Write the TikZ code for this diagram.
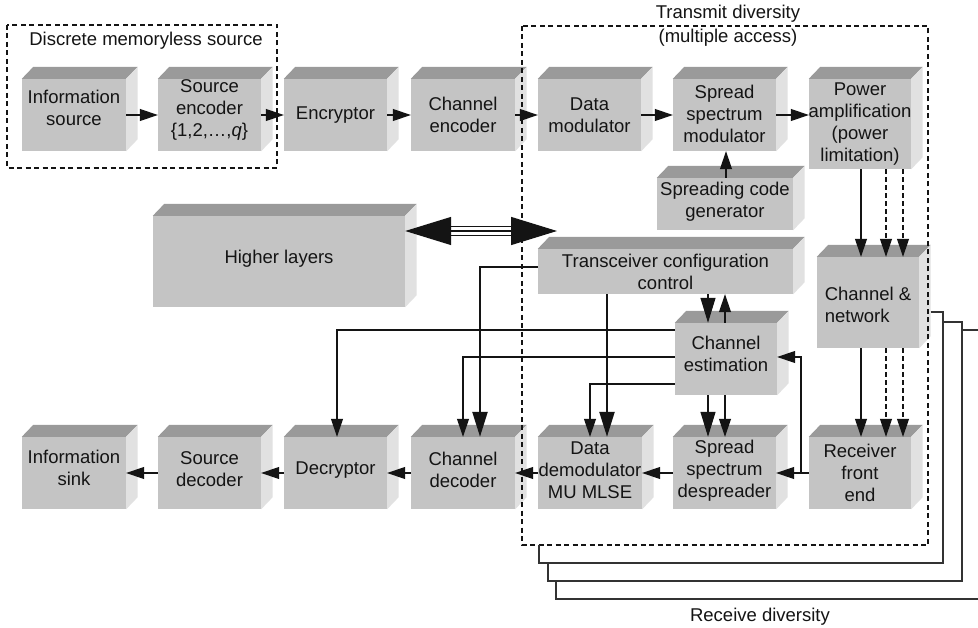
\documentclass[tikz,border=0pt]{standalone}
\usepackage{fontspec}
\setmainfont{Liberation Sans}
\usetikzlibrary{arrows.meta,calc}

\definecolor{facefront}{HTML}{C4C4C4}
\definecolor{facetop}{HTML}{9A9A9A}
\definecolor{faceside}{HTML}{E1E1E1}
\definecolor{ink}{HTML}{141414}
\definecolor{wire}{HTML}{333333}

% 3-D block: name, centre x, centre y, width, height, text, text lift
\newcommand{\blockcube}[7]{%
  \node[cubefront, minimum width=#4pt, minimum height=#5pt] (#1) at (#2,#3) {};
  \fill[facetop] (#1.north west) -- ++(11.5,-12) -- ($(#1.north east)+(11.5,-12)$) -- (#1.north east) -- cycle;
  \fill[faceside] (#1.north east) -- ++(11.5,-12) -- ($(#1.south east)+(11.5,-12)$) -- (#1.south east) -- cycle;
  \node[cubetext] (#1-text) at ([yshift=#7pt]#1.center) {#6};
}

\tikzset{
  cubefront/.style={fill=facefront, inner sep=0pt},
  cubetext/.style={inner sep=0pt, align=center, text=ink},
  arr/.style={line width=1.1pt, draw=ink, -{Triangle[length=18pt,width=12pt]}},
  bigarr/.style={line width=1.1pt, draw=ink, -{Triangle[length=25pt,width=15pt]}},
  thickarr/.style={line width=2.3pt, draw=ink, -{Triangle[length=25pt,width=15pt]}},
  dasharr/.style={arr, dash pattern=on 5pt off 3pt},
  hugearr/.style={line width=1.3pt, draw=ink, {Triangle[length=46pt,width=28pt]}-{Triangle[length=46pt,width=28pt]}},
  hugerail/.style={line width=1.3pt, draw=ink},
  groupbox/.style={line width=1.4pt, draw=ink, dash pattern=on 5pt off 3.5pt},
  divline/.style={line width=1.1pt, draw=wire},
  label/.style={text=ink, inner sep=0pt}
}

\begin{document}
\begin{tikzpicture}[x=1pt, y=-1pt,
  every node/.append style={font=\fontsize{18.5pt}{22pt}\selectfont}]
\useasboundingbox (0,0) rectangle (978,628);
\clip (0,0) rectangle (978,628);
\fill[white] (0,0) rectangle (978,628);

% transmit chain
\blockcube{isrc}{74}{115}{104}{72}{Information\\source}{7}
\blockcube{senc}{209.5}{115}{103}{72}{Source\\encoder\\\{1,2,…,\textit{q}\}}{5}
\blockcube{encr}{335.5}{115}{103}{72}{Encryptor}{0}
\blockcube{cenc}{463}{115}{104}{72}{Channel\\encoder}{0}
\blockcube{dmod}{589.5}{115}{103}{72}{Data\\modulator}{0}
\blockcube{ssmod}{724.5}{115}{103}{72}{Spread\\spectrum\\modulator}{1}
\blockcube{pamp}{860}{124}{102}{90}{Power\\amplification\\(power\\limitation)}{0}
\blockcube{scg}{725}{204}{136}{52}{Spreading code\\generator}{2}

% control and channel
\blockcube{hl}{279}{261.5}{252}{91}{Higher layers}{3}
\blockcube{tcc}{665.5}{271.5}{255}{45}{Transceiver configuration\\control}{0}
\blockcube{cnet}{868}{302.5}{102}{91}{}{0}
\node[cubetext, align=left] (cnet-label) at ([yshift=-2pt]cnet.center) {Channel \&\\network};
\blockcube{cest}{726}{359}{102}{72}{Channel\\estimation}{5}

% receive chain
\blockcube{isink}{74}{473}{104}{72}{Information\\sink}{5}
\blockcube{sdec}{209.5}{473}{103}{72}{Source\\decoder}{4}
\blockcube{decr}{335.5}{473}{103}{72}{Decryptor}{3}
\blockcube{cdec}{463}{473}{104}{72}{Channel\\decoder}{3}
\blockcube{ddem}{590}{473}{104}{72}{Data\\demodulator\\MU MLSE}{3}
\blockcube{ssdes}{724.5}{473}{103}{72}{Spread\\spectrum\\despreader}{2}
\blockcube{rfe}{860}{473}{102}{72}{Receiver\\front\\end}{0}

% dashed groupings and their titles
\draw[groupbox] (7,25) rectangle (277,168);
\node[label] (dmsTitle) at (146,41) {Discrete memoryless source};
\draw[groupbox] (522,26) rectangle (928,545);
\node[label] (txdTitle) at (728,14) {Transmit diversity};
\node[label] (maTitle) at (728,38) {(multiple access)};

% receive diversity branches
\coordinate (rdA) at ([xshift=11.5pt,yshift=-9.5pt]cnet.east);
\draw[divline] (rdA) -| (943,563) -| (539,545);
\draw[divline] (943,322) -| (962,581) -| (548,563);
\draw[divline] (962,330) -| (990,599) -| (556,581);
\node[label] (rxdTitle) at (760,617) {Receive diversity};

% forward transmit path
\draw[arr] (isrc.east) -- (senc.west);
\draw[arr] (senc.east) -- (encr.west);
\draw[arr] (encr.east) -- (cenc.west);
\draw[arr] (cenc.east) -- (dmod.west);
\draw[arr] (dmod.east) -- (ssmod.west);
\draw[arr] (ssmod.east) -- (ssmod.east -| pamp.west);
\draw[arr] ([xshift=1pt]scg.north) -- ([xshift=1pt]scg.north |- ssmod.south);

% power amplifier -> channel -> receiver front end
\draw[arr] ([xshift=1pt]pamp.south) -- ([xshift=1pt]pamp.south |- cnet.north);
\draw[dasharr] ([xshift=26pt]pamp.south) -- ([xshift=26pt]pamp.south |- cnet.north);
\draw[dasharr] ([xshift=43pt]pamp.south) -- ([xshift=43pt]pamp.south |- cnet.north);
\draw[arr] ([xshift=1pt]rfe.north |- cnet.south) -- ([xshift=1pt]rfe.north);
\draw[dasharr] ([xshift=26pt]rfe.north |- cnet.south) -- ([xshift=26pt]rfe.north);
\draw[dasharr] ([xshift=43pt]rfe.north |- cnet.south) -- ([xshift=43pt]rfe.north);

% receive path
\draw[arr] (rfe.west) -- (ssdes.east);
\coordinate (tap) at (801,473);
\draw[arr] (tap) |- ([yshift=2pt]cest.east);
\draw[arr] (ssdes.west) -- (ddem.east);
\draw[arr] (ddem.west) -- (cdec.east);
\draw[arr] (cdec.west) -- (decr.east);
\draw[arr] (decr.west) -- (sdec.east);
\draw[arr] (sdec.west) -- (isink.east);

% higher layers <-> transceiver configuration
\coordinate (hlTip) at (557,231);
\draw[hugearr] (hl.east |- hlTip) -- (hlTip);
\draw[hugerail] ([shift={(46,-4.5)}]hl.east |- hlTip) -- ([shift={(-45,-4.5)}]hlTip);
\draw[hugerail] ([shift={(46,4.5)}]hl.east |- hlTip) -- ([shift={(-45,4.5)}]hlTip);

% configuration control
\draw[bigarr] ([xshift=-18pt]cest.north |- tcc.south) -- ([xshift=-18pt]cest.north);
\draw[arr] ([xshift=-1pt]cest.north) -- ([xshift=-1pt]cest.north |- tcc.south);
\draw[thickarr] ([xshift=17pt]ddem.north |- tcc.south) -- ([xshift=17pt]ddem.north);
\draw[thickarr] ([yshift=4.5pt]tcc.west) -| ([xshift=17pt]cdec.north);

% channel estimation outputs
\draw[arr] ([yshift=29pt]cest.west) -| ([xshift=1.5pt]decr.north);
\draw[arr] ([yshift=2pt]cest.west) -| (cdec.north);
\draw[arr] ([yshift=-25pt]cest.west) -| (ddem.north);
\draw[bigarr] ([xshift=-16.5pt]ssdes.north |- cest.south) -- ([xshift=-16.5pt]ssdes.north);
\draw[arr] ([xshift=0.5pt]ssdes.north |- cest.south) -- ([xshift=0.5pt]ssdes.north);
\end{tikzpicture}
\end{document}
